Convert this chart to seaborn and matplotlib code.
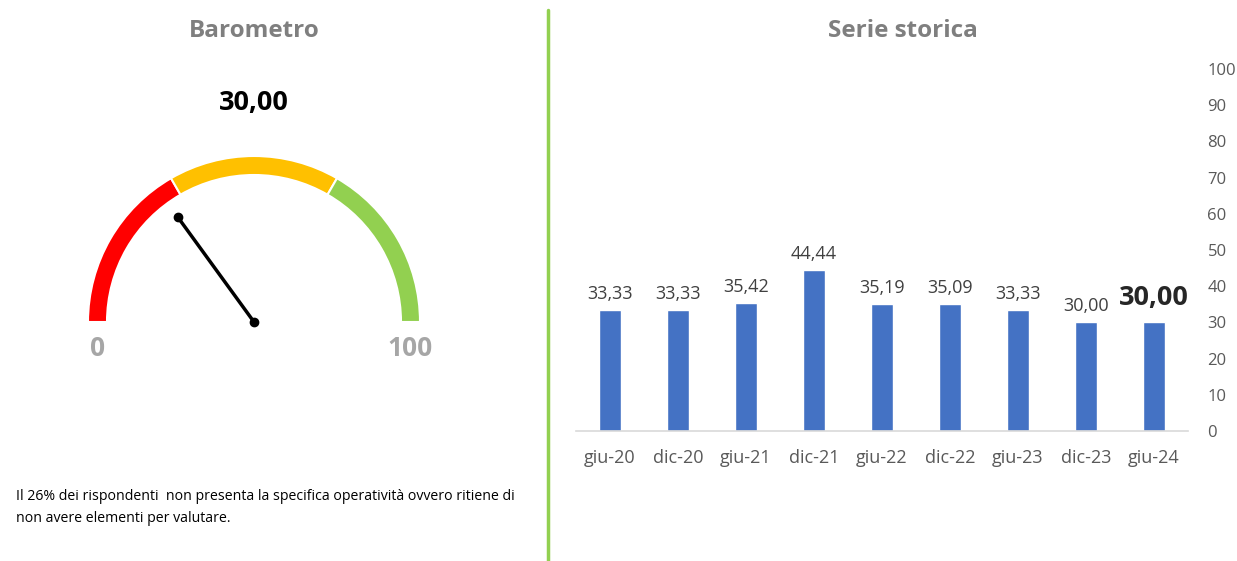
import numpy as np
import pandas as pd
import matplotlib
matplotlib.use("Agg")
import matplotlib.pyplot as plt
from matplotlib.patches import Wedge
import seaborn as sns

# data
periods = ["giu-20", "dic-20", "giu-21", "dic-21", "giu-22", "dic-22", "giu-23", "dic-23", "giu-24"]
scores = [33.33, 33.33, 35.42, 44.44, 35.19, 35.09, 33.33, 30.00, 30.00]
gauge_value = 30.00
gauge_bands = [0, 33.33, 66.67, 100]
band_colors = ["#FF0000", "#FFC000", "#92D050"]
note_lines = ["Il 26% dei rispondenti  non presenta la specifica operatività ovvero ritiene di",
              "non avere elementi per valutare."]

sns.set_theme(style="white")
plt.rcParams["font.family"] = ["Open Sans", "DejaVu Sans"]

W, H = 1237, 561
fig = plt.figure(figsize=(W / 100, H / 100), dpi=100)

# overlay axes in pixel coordinates (y up)
bg = fig.add_axes([0, 0, 1, 1])
bg.set_xlim(0, W)
bg.set_ylim(0, H)
bg.axis("off")

def py(y):
    return H - y

bg.text(254, py(31), "Barometro", ha="center", va="center", fontsize=17.5,
        fontweight="bold", color="#7F7F7F")
bg.text(903, py(31), "Serie storica", ha="center", va="center", fontsize=17.5,
        fontweight="bold", color="#7F7F7F")
bg.text(254, py(103), f"{gauge_value:.2f}".replace(".", ","), ha="center", va="center",
        fontsize=19.5, fontweight="bold", color="black")

# gauge
cx, cy = 254, py(322)
r_out, width = 166, 19
for lo, hi, c in zip(gauge_bands[:-1], gauge_bands[1:], band_colors):
    a1 = 180 - hi * 1.8
    a2 = 180 - lo * 1.8
    bg.add_patch(Wedge((cx, cy), r_out, a1, a2, width=width, facecolor=c,
                       edgecolor="white", linewidth=1.5))
ang = np.deg2rad(180 - gauge_value * 1.8)
nl = 130
nx, ny = cx + nl * np.cos(ang), cy + nl * np.sin(ang)
bg.plot([cx, nx], [cy, ny], color="black", lw=2.5, solid_capstyle="round")
bg.plot([cx, nx], [cy, ny], "o", color="black", ms=6)
bg.text(98, py(349), "0", ha="center", va="center", fontsize=19, fontweight="bold",
        color="#A6A6A6")
bg.text(410, py(349), "100", ha="center", va="center", fontsize=19, fontweight="bold",
        color="#A6A6A6")

for k, line in enumerate(note_lines):
    bg.text(16, py(496 + 22 * k), line, ha="left", va="center", fontsize=10.2,
            color="black")

# separator
bg.plot([548, 548], [0, py(10)], color="#92D050", lw=2.5)

# bar chart
ax = fig.add_axes([576 / W, 130 / H, 612 / W, 362 / H])
df = pd.DataFrame({"periodo": periods, "valore": scores})
sns.barplot(data=df, x="periodo", y="valore", color="#4472C4", width=0.32,
            saturation=1, ax=ax)
ax.set_ylim(0, 100)
ax.set_yticks(range(0, 101, 10))
ax.yaxis.tick_right()
ax.tick_params(axis="y", length=0, pad=14, labelsize=12, labelcolor="#595959")
ax.tick_params(axis="x", length=0, pad=13, labelsize=13, labelcolor="#595959")
for lab in ax.get_yticklabels():
    lab.set_horizontalalignment("left")
ax.set_xlabel("")
ax.set_ylabel("")
for s in ["top", "left", "right"]:
    ax.spines[s].set_visible(False)
ax.spines["bottom"].set_color("#D9D9D9")
ax.spines["bottom"].set_linewidth(1.2)

for i, v in enumerate(scores):
    txt = f"{v:.2f}".replace(".", ",")
    if i == len(scores) - 1:
        ax.annotate(txt, (i, v), xytext=(0, 8), textcoords="offset points",
                    ha="center", va="bottom", fontsize=19.5, fontweight="bold",
                    color="#262626")
    else:
        ax.annotate(txt, (i, v), xytext=(0, 5), textcoords="offset points",
                    ha="center", va="bottom", fontsize=13, color="#404040")

fig.savefig("out.png", dpi=100)
